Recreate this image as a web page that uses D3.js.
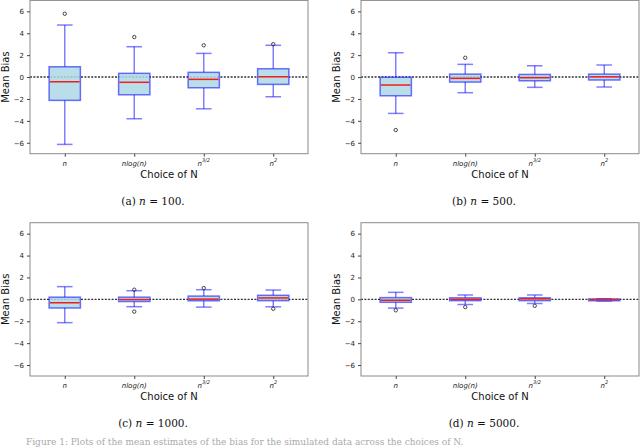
<!DOCTYPE html>
<html lang="en">
  <head>
    <meta charset="UTF-8" />
    <script src="https://d3js.org/d3.v7.min.js"></script>
    <title>Mean Bias</title>
    <style>
      body { margin: 0; background: #fff; }
    </style>
  </head>
  <body>
    <div id="chart"></div>
    <script>
      // categories (x axis)
      const categories = ["n", "nlog(n)", "n32", "n2"];
      const yTicks = [-6, -4, -2, 0, 2, 4, 6];
      const captions = ["100", "500", "1000", "5000"];
      const captionLetters = ["a", "b", "c", "d"];

      // [lower whisker, q1, median, q3, upper whisker] per category
      const statsN100 = [
        [-6.15, -2.13, -0.43, 0.94, 4.75],
        [-3.81, -1.62, -0.48, 0.34, 2.77],
        [-2.9, -0.98, -0.21, 0.43, 2.16],
        [-1.8, -0.67, 0.03, 0.76, 2.9]
      ];
      const outliersN100 = [[5.78], [3.65], [2.9], [3.0]];

      const statsN500 = [
        [-3.32, -1.71, -0.73, -0.02, 2.22],
        [-1.43, -0.46, -0.12, 0.27, 1.16],
        [-0.94, -0.34, -0.06, 0.24, 1.03],
        [-0.91, -0.27, 0.02, 0.27, 1.1]
      ];
      const outliersN500 = [[-4.84], [1.76], [], []];

      const statsN1000 = [
        [-2.13, -0.79, -0.31, 0.2, 1.16],
        [-0.67, -0.2, -0.02, 0.2, 0.79],
        [-0.71, -0.13, 0.02, 0.3, 0.88],
        [-0.68, -0.12, 0.13, 0.37, 0.85]
      ];
      const outliersN1000 = [[], [0.88, -1.12], [1.03], [-0.86]];

      const statsN5000 = [
        [-0.8, -0.27, -0.09, 0.16, 0.64],
        [-0.47, -0.12, 0.0, 0.14, 0.4],
        [-0.38, -0.12, 0.05, 0.14, 0.4],
        [-0.15, -0.13, -0.03, 0.03, 0.03]
      ];
      const outliersN5000 = [[-1.0], [-0.71], [-0.59], []];

      const panelStats = [statsN100, statsN500, statsN1000, statsN5000];
      const panelOutliers = [outliersN100, outliersN500, outliersN1000, outliersN5000];

      const W = 640, H = 448;
      const plotW = 278, plotH = 153.3;
      const colX = [30, 361];
      const rowY = [0.4, 222.7];

      const svg = d3
        .select("#chart")
        .append("svg")
        .attr("width", W)
        .attr("height", H)
        .style("font-family", "DejaVu Sans, sans-serif");

      const x = d3.scaleLinear().domain([0.5, 4.5]).range([0, plotW]);
      const y = d3.scaleLinear().domain([-7, 7]).range([plotH, 0]);
      const boxW = x(1.45) - x(1);
      const capW = boxW / 2;

      function tickLabel(sel, c) {
        sel.attr("font-style", "italic");
        if (c === "n32" || c === "n2") {
          sel.append("tspan").text("n");
          sel
            .append("tspan")
            .attr("font-size", 5)
            .attr("dy", -3.5)
            .text(c === "n32" ? "3/2" : "2");
        } else {
          sel.text(c);
        }
      }

      panelStats.forEach((stats, p) => {
        const g = svg
          .append("g")
          .attr("transform", `translate(${colX[p % 2]}, ${rowY[Math.floor(p / 2)]})`);

        // zero reference line
        g.append("line")
          .attr("x1", 0)
          .attr("x2", plotW)
          .attr("y1", y(0))
          .attr("y2", y(0))
          .attr("stroke", "#333")
          .attr("stroke-width", 1.4)
          .attr("stroke-dasharray", "2,1.4");

        stats.forEach((s, i) => {
          const cx = x(i + 1);
          const [lo, q1, med, q3, hi] = s;
          const b = g.append("g");
          // whiskers
          b.append("line")
            .attr("x1", cx).attr("x2", cx)
            .attr("y1", y(q3)).attr("y2", y(hi))
            .attr("stroke", "blue").attr("stroke-opacity", 0.5).attr("stroke-width", 1.5);
          b.append("line")
            .attr("x1", cx).attr("x2", cx)
            .attr("y1", y(q1)).attr("y2", y(lo))
            .attr("stroke", "blue").attr("stroke-opacity", 0.5).attr("stroke-width", 1.5);
          [lo, hi].forEach((v) => {
            b.append("line")
              .attr("x1", cx - capW / 2).attr("x2", cx + capW / 2)
              .attr("y1", y(v)).attr("y2", y(v))
              .attr("stroke", "blue").attr("stroke-opacity", 0.5).attr("stroke-width", 1.5);
          });
          // box
          b.append("rect")
            .attr("x", cx - boxW / 2)
            .attr("y", y(q3))
            .attr("width", boxW)
            .attr("height", Math.max(0.5, y(q1) - y(q3)))
            .attr("fill", "#add8e6")
            .attr("fill-opacity", 0.85)
            .attr("stroke", "blue")
            .attr("stroke-opacity", 0.55)
            .attr("stroke-width", 1.5);
          // median
          b.append("line")
            .attr("x1", cx - boxW / 2 + 0.8).attr("x2", cx + boxW / 2 - 0.8)
            .attr("y1", y(med)).attr("y2", y(med))
            .attr("stroke", "#f21c1c").attr("stroke-width", 1.5);
          // outliers
          b.selectAll("circle")
            .data(panelOutliers[p][i])
            .join("circle")
            .attr("cx", cx)
            .attr("cy", (d) => y(d))
            .attr("r", 1.7)
            .attr("fill", "none")
            .attr("stroke", "#333")
            .attr("stroke-width", 0.9);
        });

        // frame
        g.append("rect")
          .attr("width", plotW)
          .attr("height", plotH)
          .attr("fill", "none")
          .attr("stroke", "#8a8a8a")
          .attr("stroke-width", 1);

        // y axis
        const ya = g.append("g").call(d3.axisLeft(y).tickValues(yTicks).tickSize(3).tickPadding(3).tickFormat((d) => (d < 0 ? "\u2212" + -d : d)));
        ya.select(".domain").remove();
        ya.selectAll("line").attr("stroke", "#444");
        ya.selectAll("text").attr("font-size", 7).attr("fill", "#222").attr("font-family", "DejaVu Sans, sans-serif");

        // x axis
        const xa = g
          .append("g")
          .attr("transform", `translate(0, ${plotH})`)
          .call(d3.axisBottom(x).tickValues([1, 2, 3, 4]).tickSize(3).tickPadding(3).tickFormat(""));
        xa.select(".domain").remove();
        xa.selectAll("line").attr("stroke", "#444");
        categories.forEach((c, i) => {
          g.append("text")
            .attr("x", x(i + 1))
            .attr("y", plotH + 12)
            .attr("text-anchor", "middle")
            .attr("font-size", 7)
            .attr("fill", "#222")
            .call(tickLabel, c);
        });

        g.append("text")
          .attr("x", plotW / 2)
          .attr("y", plotH + 24)
          .attr("text-anchor", "middle")
          .attr("font-size", 10)
          .attr("fill", "#111")
          .text("Choice of N");

        g.append("text")
          .attr("transform", `translate(-21, ${plotH / 2}) rotate(-90)`)
          .attr("text-anchor", "middle")
          .attr("font-size", 10)
          .attr("fill", "#111")
          .text("Mean Bias");

        // subfigure caption
        const cap = g
          .append("text")
          .attr("x", plotW / 2 - 16)
          .attr("y", plotH + 51)
          .attr("text-anchor", "middle")
          .attr("font-size", 10.5)
          .attr("font-family", "DejaVu Serif, serif")
          .attr("fill", "#111");
        cap.append("tspan").text(`(${captionLetters[p]}) `);
        cap.append("tspan").attr("font-style", "italic").text("n");
        cap.append("tspan").text(` = ${captions[p]}.`);
      });

      // figure caption at the page bottom
      svg
        .append("text")
        .attr("x", 26)
        .attr("y", 445)
        .attr("font-size", 9)
        .attr("font-family", "DejaVu Serif, serif")
        .attr("fill", "#aaa")
        .text("Figure 1: Plots of the mean estimates of the bias for the simulated data across the choices of N.");
    </script>
  </body>
</html>
